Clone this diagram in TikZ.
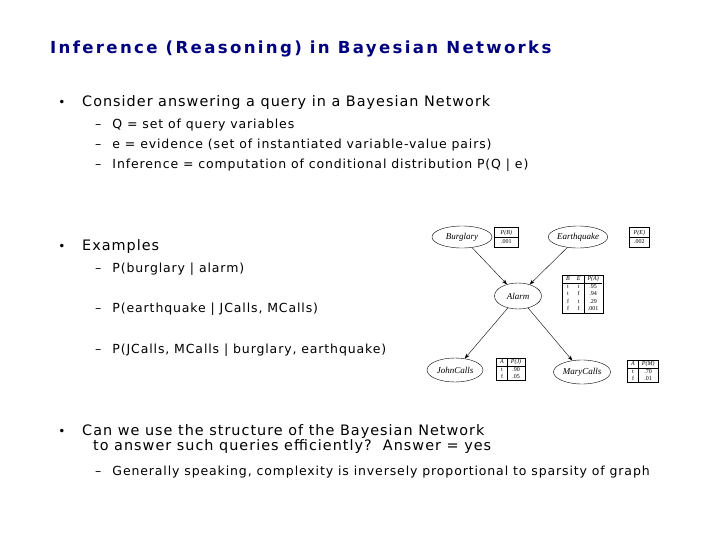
\documentclass[tikz,border=0pt]{standalone}
\usepackage{fontspec}
\setmainfont{DejaVu Sans}
\newfontfamily\serifit{Liberation Serif}
\usetikzlibrary{arrows.meta,shapes.geometric}
\begin{document}
\begin{tikzpicture}[x=1pt,y=-1pt,
  title/.style={anchor=west,font=\fontsize{16.6}{18}\selectfont\bfseries\addfontfeature{LetterSpace=14},text=blue!50!black,inner sep=0},
  lvl1/.style={anchor=west,font=\fontsize{14.4}{16}\selectfont\addfontfeature{LetterSpace=7},inner sep=0,align=left},
  lvl2/.style={anchor=west,font=\fontsize{12.5}{14}\selectfont\addfontfeature{LetterSpace=7},inner sep=0},
  bul/.style={anchor=center,font=\fontsize{12}{14}\selectfont,inner sep=0},
  bn/.style={draw,ellipse,minimum height=22pt,inner sep=0,font=\serifit\itshape\fontsize{9}{11}\selectfont},
  cpt/.style={draw,inner sep=0.5pt,font=\serifit\fontsize{6}{7}\selectfont\renewcommand\arraystretch{1.3}\setlength\tabcolsep{3.5pt},fill=white},
  arr/.style={-{Stealth[length=5pt]},thin}]
\useasboundingbox (0,0) rectangle (720,540);
\fill[white] (0,0) rectangle (720,540);
\node[title] (t) at (50,49) {Inference (Reasoning) in Bayesian Networks};
\node[bul] (b1) at (62,103) {•};
\node[lvl1] (l1) at (82,103) {Consider answering a query in a Bayesian Network};
\node[lvl2] (s1) at (95,125) {–\hspace{11pt}Q = set of query variables};
\node[lvl2] (s2) at (95,145) {–\hspace{11pt}e = evidence (set of instantiated variable-value pairs)};
\node[lvl2] (s3) at (95,165) {–\hspace{11pt}Inference = computation of conditional distribution P(Q | e)};
\node[bul] (b2) at (62,247) {•};
\node[lvl1] (l2) at (82,247) {Examples};
\node[lvl2] (s4) at (95,269) {–\hspace{11pt}P(burglary | alarm)};
\node[lvl2] (s5) at (95,309) {–\hspace{11pt}P(earthquake | JCalls, MCalls)};
\node[lvl2] (s6) at (95,350) {–\hspace{11pt}P(JCalls, MCalls | burglary, earthquake)};
\node[bul] (b3) at (62,432) {•};
\node[lvl1,anchor=north west] (l3) at (82,424) {Can we use the structure of the Bayesian Network\\[-1pt]\hspace{11pt}to answer such queries efficiently?\ \ Answer = yes};
\node[lvl2] (s7) at (95,472) {–\hspace{11pt}Generally speaking, complexity is inversely proportional to sparsity of graph};
% network
\node[bn,minimum width=60pt] (B) at (462,237) {Burglary};
\node[bn,minimum width=56pt] (E) at (578,237) {Earthquake};
\node[bn,minimum width=47pt,minimum height=26pt] (A) at (518,296) {Alarm};
\node[bn,minimum width=56pt,minimum height=24pt] (J) at (455,370) {JohnCalls};
\node[bn,minimum width=57pt,minimum height=24pt] (M) at (582,372) {MaryCalls};
\draw[arr] (B) -- (A);
\draw[arr] (E) -- (A);
\draw[arr] (A) -- (J);
\draw[arr] (A) -- (M);
\node[cpt,anchor=north west] (tb) at (494,227) {\begin{tabular}{@{\hspace{6pt}}c@{\hspace{6pt}}}\itshape P(B)\\\hline .001\end{tabular}};
\node[cpt,anchor=north west] (te) at (629,227) {\begin{tabular}{@{\hspace{4pt}}c@{\hspace{4pt}}}\itshape P(E)\\\hline .002\end{tabular}};
\node[cpt,anchor=north west] (ta) at (562,275) {\renewcommand\arraystretch{1.05}\begin{tabular}{cc|c}\itshape B&\itshape E&\itshape P(A)\\\hline t&t&.95\\t&f&.94\\f&t&.29\\f&f&.001\end{tabular}};
\node[cpt,anchor=north west] (tj) at (496,358) {\renewcommand\arraystretch{1.0}\begin{tabular}{c|c}\itshape A&\itshape P(J)\\\hline t&.90\\f&.05\end{tabular}};
\node[cpt,anchor=north west] (tm) at (627,360) {\renewcommand\arraystretch{1.0}\begin{tabular}{c|c}\itshape A&\itshape P(M)\\\hline t&.70\\f&.01\end{tabular}};
\end{tikzpicture}
\end{document}
